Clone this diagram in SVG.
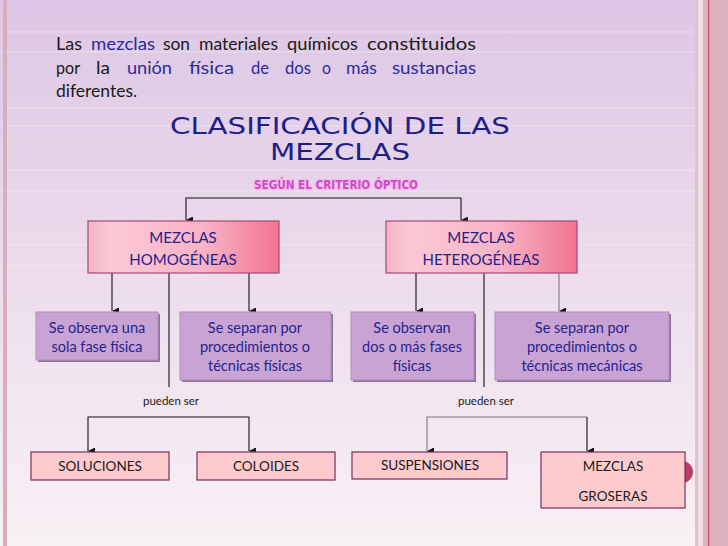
<svg xmlns="http://www.w3.org/2000/svg" width="728" height="546" viewBox="0 0 728 546">
<defs>
<linearGradient id="bg" x1="0" y1="0" x2="0" y2="1">
<stop offset="0" stop-color="#ddc6e5"/>
<stop offset="0.5" stop-color="#ecdcec"/>
<stop offset="1" stop-color="#f8f1f5"/>
</linearGradient>
<linearGradient id="pinkbox" x1="0" y1="0" x2="1" y2="0">
<stop offset="0" stop-color="#f3b4c6"/>
<stop offset="0.12" stop-color="#fbc9d6"/>
<stop offset="0.6" stop-color="#f8b3c6"/>
<stop offset="1" stop-color="#f07490"/>
</linearGradient>
<marker id="arr" viewBox="0 0 8 8" refX="4" refY="8" markerWidth="7" markerHeight="7" markerUnits="userSpaceOnUse" orient="auto-start-reverse">
<path d="M0,0 L8,0 L4,8 Z" fill="#111"/>
</marker>
<style>
.t{font-family:Lato,"Open Sans","Liberation Sans",sans-serif;}
.intro{font-size:17.5px;fill:#1a1a1a;}
.blue{fill:#2b2b96;}
.title{font-family:"DejaVu Sans","Liberation Sans",sans-serif;font-size:22.5px;fill:#1e1e8a;text-anchor:middle;}
.sub{font-family:"DejaVu Sans","Liberation Sans",sans-serif;font-size:12px;font-weight:bold;fill:#cf4ac2;stroke:#f6c0f0;stroke-width:3px;stroke-linejoin:round;paint-order:stroke;text-anchor:middle;}
.main{fill:url(#pinkbox);stroke:#a44a74;stroke-width:1.2;}
.mtxt{font-size:15px;fill:#22228a;text-anchor:middle;}
.feat{fill:#c9a3d3;stroke:#b08cbc;stroke-width:1;}
.shadow{fill:#8c7494;}
.ftxt{font-size:14.5px;fill:#24248e;text-anchor:middle;}
.leaf{fill:#fdcacd;stroke:#7c2c5e;stroke-width:1.2;}
.ltxt{font-size:13.5px;fill:#1a1a1a;text-anchor:middle;}
.small{font-size:11.5px;fill:#1a1a1a;text-anchor:middle;}
.ln{fill:none;stroke:#111;stroke-width:1.1;}
.lg{fill:none;stroke:#7a7a7a;stroke-width:1.1;}
</style>
</defs>

<rect x="0" y="0" width="728" height="546" fill="url(#bg)"/>
<g opacity="0.35" stroke="#ffffff" stroke-width="1">
<line x1="0" y1="32" x2="696" y2="32"/><line x1="0" y1="52" x2="696" y2="52"/>
<line x1="0" y1="108" x2="696" y2="108"/><line x1="0" y1="126" x2="696" y2="126"/>
<line x1="0" y1="170" x2="696" y2="170"/><line x1="0" y1="191" x2="696" y2="191"/>
<line x1="0" y1="245" x2="696" y2="245"/><line x1="0" y1="265" x2="696" y2="265"/>
</g>
<!-- borders -->
<rect x="3" y="0" width="4" height="546" fill="#d6aebc"/>
<rect x="695" y="0" width="3" height="546" fill="#e6c2cc"/>
<rect x="698" y="0" width="5" height="546" fill="#f1e0e8"/>
<rect x="703" y="0" width="25" height="546" fill="#dbb1bd"/>
<rect x="708" y="0" width="1.2" height="546" fill="#b8506e"/>

<!-- intro text -->
<g class="t intro">
<text x="56" y="50" textLength="26" lengthAdjust="spacingAndGlyphs">Las</text>
<text class="blue" x="91" y="50" textLength="64" lengthAdjust="spacingAndGlyphs">mezclas</text>
<text x="163" y="50" textLength="27" lengthAdjust="spacingAndGlyphs">son</text>
<text x="199" y="50" textLength="79" lengthAdjust="spacingAndGlyphs">materiales</text>
<text x="287" y="50" textLength="71" lengthAdjust="spacingAndGlyphs">químicos</text>
<text x="367" y="50" textLength="109" lengthAdjust="spacingAndGlyphs">constituidos</text>
<text x="56" y="74" textLength="24" lengthAdjust="spacingAndGlyphs">por</text>
<text x="96" y="74" textLength="14" lengthAdjust="spacingAndGlyphs">la</text>
<text class="blue" x="127" y="74" textLength="45" lengthAdjust="spacingAndGlyphs">unión</text>
<text class="blue" x="189" y="74" textLength="45" lengthAdjust="spacingAndGlyphs">física</text>
<text class="blue" x="251" y="74" textLength="18" lengthAdjust="spacingAndGlyphs">de</text>
<text class="blue" x="285" y="74" textLength="26" lengthAdjust="spacingAndGlyphs">dos</text>
<text class="blue" x="322" y="74" textLength="9" lengthAdjust="spacingAndGlyphs">o</text>
<text class="blue" x="346" y="74" textLength="31" lengthAdjust="spacingAndGlyphs">más</text>
<text class="blue" x="392" y="74" textLength="84" lengthAdjust="spacingAndGlyphs">sustancias</text>
<text x="56" y="97">diferentes.</text>
</g>

<!-- title -->
<text class="title" x="340" y="134" textLength="340" lengthAdjust="spacingAndGlyphs">CLASIFICACIÓN DE LAS</text>
<text class="title" x="340" y="160" textLength="140" lengthAdjust="spacingAndGlyphs">MEZCLAS</text>
<text class="sub" x="336" y="189" textLength="164" lengthAdjust="spacingAndGlyphs">SEGÚN EL CRITERIO ÓPTICO</text>

<!-- connectors -->
<g id="connectors">
<path class="ln" d="M461,198 H186 V220" marker-end="url(#arr)"/>
<path class="ln" d="M461,198 V220" marker-end="url(#arr)"/>
<path class="ln" d="M112,273 V311" marker-end="url(#arr)"/>
<path class="ln" d="M249,273 V311" marker-end="url(#arr)"/>
<path class="ln" d="M169,273 V387"/>
<path class="ln" d="M416,273 V311" marker-end="url(#arr)"/>
<path class="lg" d="M559,273 V311" marker-end="url(#arr)"/>
<path class="ln" d="M484,273 V387"/>
<path class="ln" d="M249,417 H88 V451" marker-end="url(#arr)"/>
<path class="ln" d="M249,417 V451" marker-end="url(#arr)"/>
<path class="lg" d="M587,417 H427 V451" marker-end="url(#arr)"/>
<path class="ln" d="M587,417 V451" marker-end="url(#arr)"/>
<text class="t small" x="171" y="405">pueden ser</text>
<text class="t small" x="486" y="405">pueden ser</text>
</g>

<g id="homogeneas">
<rect class="main" x="88" y="221" width="191" height="52"/>
<text class="t mtxt" x="183" y="243">MEZCLAS</text>
<text class="t mtxt" x="183" y="265">HOMOGÉNEAS</text>
</g>
<g id="heterogeneas">
<rect class="main" x="386" y="221" width="191" height="52"/>
<text class="t mtxt" x="481" y="243">MEZCLAS</text>
<text class="t mtxt" x="481" y="265">HETEROGÉNEAS</text>
</g>

<g id="fase-unica">
<rect class="shadow" x="38" y="314" width="122" height="48"/>
<rect class="feat" x="36" y="312" width="122" height="48"/>
<text class="t ftxt" x="97" y="333">Se observa una</text>
<text class="t ftxt" x="97" y="352">sola fase física</text>
</g>
<g id="separan-fisicas">
<rect class="shadow" x="182" y="314" width="151" height="68"/>
<rect class="feat" x="180" y="312" width="151" height="68"/>
<text class="t ftxt" x="255" y="333">Se separan por</text>
<text class="t ftxt" x="255" y="352">procedimientos o</text>
<text class="t ftxt" x="255" y="371">técnicas físicas</text>
</g>
<g id="varias-fases">
<rect class="shadow" x="353" y="314" width="123" height="68"/>
<rect class="feat" x="351" y="312" width="123" height="68"/>
<text class="t ftxt" x="412" y="333">Se observan</text>
<text class="t ftxt" x="412" y="352">dos o más fases</text>
<text class="t ftxt" x="412" y="371">físicas</text>
</g>
<g id="separan-mecanicas">
<rect class="shadow" x="497" y="314" width="174" height="68"/>
<rect class="feat" x="495" y="312" width="174" height="68"/>
<text class="t ftxt" x="582" y="333">Se separan por</text>
<text class="t ftxt" x="582" y="352">procedimientos o</text>
<text class="t ftxt" x="582" y="371">técnicas mecánicas</text>
</g>

<circle cx="682" cy="472" r="11" fill="#b83c6a"/>

<g id="soluciones">
<rect class="leaf" x="31" y="452" width="138" height="28"/>
<text class="t ltxt" x="100" y="471">SOLUCIONES</text>
</g>
<g id="coloides">
<rect class="leaf" x="197" y="452" width="138" height="28"/>
<text class="t ltxt" x="266" y="471">COLOIDES</text>
</g>
<g id="suspensiones">
<rect class="leaf" x="352" y="452" width="155" height="27"/>
<text class="t ltxt" x="430" y="470">SUSPENSIONES</text>
</g>
<g id="groseras">
<rect class="leaf" x="541" y="452" width="144" height="56"/>
<text class="t ltxt" x="613" y="471">MEZCLAS</text>
<text class="t ltxt" x="613" y="501">GROSERAS</text>
</g>
</svg>
